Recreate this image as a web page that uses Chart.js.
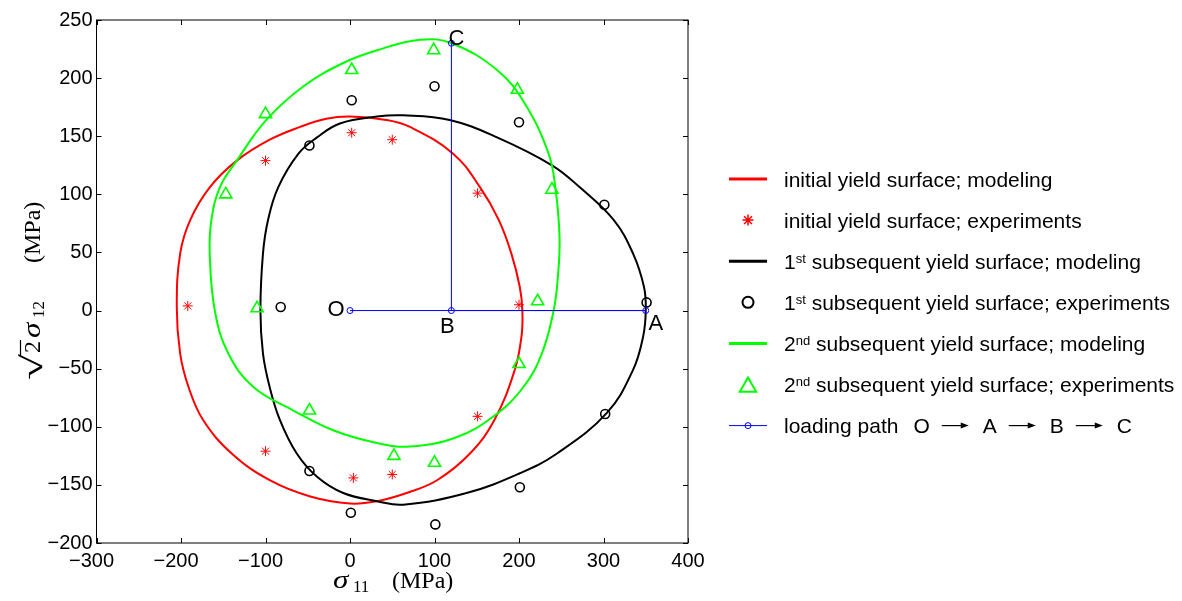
<!DOCTYPE html>
<html>
<head>
<meta charset="utf-8">
<script src="https://cdn.jsdelivr.net/npm/chart.js"></script>
<style>
  html, body { margin: 0; padding: 0; background: #fff; }
  #wrap { width: 1182px; height: 601px; }
</style>
</head>
<body>
<div id="wrap"><canvas id="myChart" width="1182" height="601"></canvas></div>
<script>
// tick values of both axes
const xTickValues = [-300, -200, -100, 0, 100, 200, 300, 400];
const yTickValues = [-200, -150, -100, -50, 0, 50, 100, 150, 200, 250];

// modeled yield surfaces as [sigma11, sqrt2*sigma12]
// closed curves: the last point joins back to the first
const initialModel = [
  [0, 167], [-28, 165], [-59, 158], [-95, 147], [-134, 129], [-166, 106], [-189, 78],
  [-201, 49], [-205, 3], [-201, -37], [-191, -66], [-174, -94], [-140, -123],
  [-95, -146], [-47, -160], [0, -166], [32, -164], [67, -157], [103, -146],
  [142, -123], [171, -94], [195, -51], [203, -22], [204, 0], [201, 20], [191, 49],
  [176, 78], [154, 106], [122, 135], [71, 158], [43, 164]
];
const firstModel = [
  [-106, 0], [-103, -37], [-95, -66], [-83, -94], [-63, -123], [-39, -143],
  [-8, -157], [32, -164], [63, -167], [138, -157], [201, -140], [245, -123],
  [304, -88], [335, -51], [347, -22], [350, 0], [348, 20], [335, 49], [312, 78],
  [272, 106], [239, 125], [174, 149], [118, 164], [63, 168], [32, 167], [-12, 161],
  [-39, 149], [-61, 135], [-85, 106], [-97, 78], [-103, 49]
];
const secondModel = [
  [-55, 193], [-99, 164], [-134, 129], [-154, 106], [-164, 78], [-166, 49],
  [-160, 0], [-144, -37], [-114, -66], [-67, -86], [-20, -103], [32, -114],
  [71, -117], [126, -109], [170, -91], [205, -66], [227, -37], [241, 0], [246, 29],
  [248, 63], [243, 106], [235, 135], [207, 178], [174, 207], [120, 230], [83, 233],
  [32, 224], [-8, 213]
];

// experimental points
const initialExp = [
  [-192, 4], [-100, 129], [2, 153], [50, 147], [151, 101], [200, 5],
  [151, -91], [50, -141], [4, -144], [-100, -121]
];
const firstExp = [
  [-82, 3], [-48, 142], [2, 181], [100, 193], [200, 162], [301, 91], [351, 7],
  [302, -89], [201, -152], [101, -184], [1, -174], [-48, -138]
];
const secondExp = [
  [-147, 100], [-100, 169], [2, 207], [99, 224], [198, 190], [239, 104], [222, 8],
  [200, -46], [100, -131], [52, -125], [-48, -86], [-110, 2]
];

// loading path O -> A -> B -> C
const loadingPath = [[0, 0], [350, 0], [120, 0], [120, 230]];
const pathNames = ['O', 'A', 'B', 'C'];

const legendLabels = [
  ['', '', 'initial yield surface; modeling'],
  ['', '', 'initial yield surface; experiments'],
  ['1', 'st', ' subsequent yield surface; modeling'],
  ['1', 'st', ' subsequent yield surface; experiments'],
  ['2', 'nd', ' subsequent yield surface; modeling'],
  ['2', 'nd', ' subsequent yield surface; experiments'],
  ['', '', 'loading path']
];

const SANS = '"Liberation Sans", Arial, sans-serif';
const SERIF = '"Liberation Serif", "Times New Roman", serif';
const toPts = arr => arr.map(([x, y]) => ({x, y}));
const minus = v => (v < 0 ? '\u2212' + Math.abs(v) : String(v));

function curve(data, color) {
  return { data: toPts(data), showLine: true, borderColor: color, borderWidth: 2,
    pointRadius: 0, tension: 0.4, fill: false, closed: true };
}
function marks(data, color, style, r) {
  return { data: toPts(data), showLine: false, borderColor: color, backgroundColor: 'rgba(0,0,0,0)',
    pointStyle: style, pointRadius: r, pointHoverRadius: r, pointBorderWidth: style === 'star' ? 1 : 1.6 };
}

const datasets = [
  curve(initialModel, '#ff0000'),
  marks(initialExp, '#ff0000', 'star', 5),
  curve(firstModel, '#000000'),
  marks(firstExp, '#000000', 'circle', 4.5),
  curve(secondModel, '#00ff00'),
  marks(secondExp, '#00ff00', 'triangle', 7),
  { data: toPts(loadingPath), showLine: true, borderColor: '#0000ff', borderWidth: 1, tension: 0,
    pointStyle: 'circle', pointRadius: 3, pointBorderWidth: 1, backgroundColor: 'rgba(0,0,0,0)' }
];
datasets.forEach((d, i) => { d.order = datasets.length - i; });

function drawArrow(ctx, x0, x1, y) {
  ctx.strokeStyle = '#000';
  ctx.fillStyle = '#000';
  ctx.lineWidth = 1.2;
  ctx.beginPath();
  ctx.moveTo(x0, y); ctx.lineTo(x1 - 5, y);
  ctx.stroke();
  ctx.beginPath();
  ctx.moveTo(x1, y); ctx.lineTo(x1 - 8, y - 3); ctx.lineTo(x1 - 8, y + 3); ctx.closePath();
  ctx.fill();
}

// legend markers are drawn a bit larger than in the plot, as in the original
function legendSymbol(ctx, i, cx, cy) {
  const d = datasets[i];
  ctx.strokeStyle = d.borderColor;
  if (d.showLine) {
    ctx.lineWidth = d.borderWidth === 1 ? 1 : 3;
    ctx.beginPath(); ctx.moveTo(cx - 19, cy); ctx.lineTo(cx + 19, cy); ctx.stroke();
  }
  const r = d.pointRadius;
  if (!r) return;
  ctx.beginPath();
  if (d.pointStyle === 'circle' && d.showLine) {
    ctx.lineWidth = 1;
    ctx.arc(cx, cy, r, 0, Math.PI * 2);
  } else if (d.pointStyle === 'circle') {
    ctx.lineWidth = 2;
    ctx.arc(cx, cy, 5.5, 0, Math.PI * 2);
  } else if (d.pointStyle === 'triangle') {
    ctx.lineWidth = 2;
    const rr = 9.5;
    for (let k = 0; k < 3; k++) {
      const a = k * 2 * Math.PI / 3;
      const px = cx + Math.sin(a) * rr, py = cy + 2.5 - Math.cos(a) * rr;
      k ? ctx.lineTo(px, py) : ctx.moveTo(px, py);
    }
    ctx.closePath();
  } else {
    ctx.lineWidth = 1.5;
    const rr = 5.5;
    for (let k = 0; k < 4; k++) {
      const a = k * Math.PI / 4;
      ctx.moveTo(cx - Math.cos(a) * rr, cy - Math.sin(a) * rr);
      ctx.lineTo(cx + Math.cos(a) * rr, cy + Math.sin(a) * rr);
    }
  }
  ctx.stroke();
}

const decor = {
  id: 'decor',
  afterDraw(chart) {
    const {ctx, chartArea: a} = chart;
    const xs = chart.scales.x, ys = chart.scales.y;
    ctx.save();

    // axes box with inward ticks on all four sides
    ctx.strokeStyle = '#000';
    ctx.lineWidth = 1;
    ctx.strokeRect(a.left, a.top, a.right - a.left, a.bottom - a.top);
    ctx.beginPath();
    xs.ticks.forEach(t => {
      const p = Math.round(xs.getPixelForValue(t.value)) + 0.5;
      ctx.moveTo(p, a.bottom); ctx.lineTo(p, a.bottom - 5);
      ctx.moveTo(p, a.top); ctx.lineTo(p, a.top + 5);
    });
    ys.ticks.forEach(t => {
      const p = Math.round(ys.getPixelForValue(t.value)) + 0.5;
      ctx.moveTo(a.left, p); ctx.lineTo(a.left + 5, p);
      ctx.moveTo(a.right, p); ctx.lineTo(a.right - 5, p);
    });
    ctx.stroke();

    // point names on the loading path
    const offs = [[-14, -1], [10, 13], [-4, 16], [5, -4]];
    ctx.fillStyle = '#000';
    ctx.font = '22px ' + SANS;
    ctx.textAlign = 'center';
    ctx.textBaseline = 'middle';
    loadingPath.forEach(([vx, vy], i) => {
      ctx.fillText(pathNames[i], xs.getPixelForValue(vx) + offs[i][0], ys.getPixelForValue(vy) + offs[i][1]);
    });

    // x axis title
    ctx.textAlign = 'left';
    ctx.textBaseline = 'alphabetic';
    ctx.save();
    ctx.translate(333, 588);
    ctx.scale(1.2, 1);
    ctx.font = 'italic 26px ' + SERIF;
    ctx.fillText('\u03c3', 0, 0);
    ctx.restore();
    ctx.font = '17px ' + SERIF;
    ctx.fillText('11', 353, 592);
    ctx.font = '24px ' + SERIF;
    ctx.fillText('(MPa)', 392, 588);

    // y axis title, rotated
    ctx.save();
    ctx.translate(40, 380);
    ctx.rotate(-Math.PI / 2);
    ctx.save();
    ctx.font = '30px ' + SERIF;
    const rw = ctx.measureText('\u221a').width;
    ctx.scale(26 / rw, 1);
    ctx.fillText('\u221a', 0, 2);
    ctx.restore();
    ctx.font = '24px ' + SERIF;
    ctx.fillText('2', 27, 0);
    ctx.lineWidth = 1.2;
    ctx.beginPath(); ctx.moveTo(24, -19.5); ctx.lineTo(40, -19.5); ctx.stroke();
    ctx.save();
    ctx.translate(42, 0);
    ctx.scale(1.2, 1);
    ctx.font = 'italic 26px ' + SERIF;
    ctx.fillText('\u03c3', 0, 0);
    ctx.restore();
    ctx.font = '17px ' + SERIF;
    ctx.fillText('12', 62, 4);
    ctx.font = '24px ' + SERIF;
    ctx.fillText('(MPa)', 117, 0);
    ctx.restore();

    // legend
    const lx = 784, top = 179, step = 41.1;
    legendLabels.forEach(([pre, sup, rest], i) => {
      const cy = top + i * step;
      legendSymbol(ctx, i, 748, cy);
      ctx.fillStyle = '#000';
      let x = lx;
      const base = cy + 7.5;
      ctx.font = '21px ' + SANS;
      if (pre) {
        ctx.fillText(pre, x, base); x += ctx.measureText(pre).width;
        ctx.font = '13px ' + SANS;
        ctx.fillText(sup, x, base - 6); x += ctx.measureText(sup).width;
        ctx.font = '21px ' + SANS;
      }
      ctx.fillText(rest, x, base);
      x += ctx.measureText(rest).width;
      if (i === legendLabels.length - 1) {
        x += 15;
        pathNames.forEach((n, k) => {
          ctx.fillStyle = '#000';
          ctx.fillText(n, x, base);
          x += ctx.measureText(n).width + 12;
          if (k < pathNames.length - 1) {
            drawArrow(ctx, x, x + 27, cy);
            x += 27 + 14;
          }
        });
      }
    });
    ctx.restore();
  }
};

const chart = new Chart(document.getElementById('myChart'), {
  type: 'scatter',
  data: { datasets },
  options: {
    responsive: false,
    animation: false,
    events: [],
    layout: { padding: { top: 20, right: 494, left: 0, bottom: 0 } },
    plugins: { legend: { display: false }, tooltip: { enabled: false } },
    scales: {
      x: {
        type: 'linear', min: -300, max: 400,
        afterBuildTicks: s => { s.ticks = xTickValues.map(v => ({ value: v })); },
        afterFit: s => { s.height = 58; },
        grid: { display: false, drawTicks: false },
        border: { display: false },
        // digits centred on the tick, the minus sign hangs to the left
        ticks: { autoSkip: false, maxRotation: 0, padding: 6, color: '#000',
          font: { family: SANS, size: 20 }, callback: v => (v < 0 ? minus(v) + '\u2002' : minus(v)) }
      },
      y: {
        type: 'linear', min: -200, max: 250,
        afterBuildTicks: s => { s.ticks = yTickValues.map(v => ({ value: v })); },
        afterFit: s => { s.width = 96.5; },
        grid: { display: false, drawTicks: false },
        border: { display: false },
        ticks: { autoSkip: false, padding: 4, color: '#000',
          font: { family: SANS, size: 20 }, callback: v => minus(v) }
      }
    }
  },
  plugins: [decor]
});

// yield surfaces are closed loops: let the line element join its ends smoothly
datasets.forEach((d, i) => {
  if (!d.closed) return;
  const line = chart.getDatasetMeta(i).dataset;
  if (line) { line._loop = true; line._fullLoop = true; }
});
chart.update('none');
</script>
</body>
</html>
